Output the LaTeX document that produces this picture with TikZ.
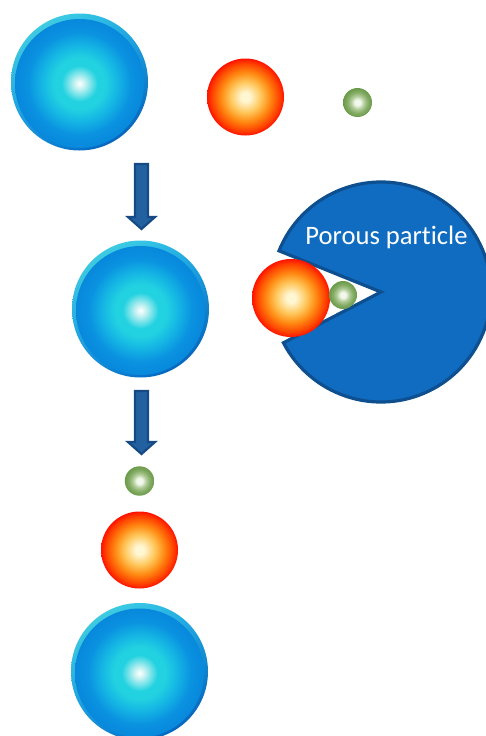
\documentclass[tikz,border=0pt]{standalone}
\usepackage{fontspec}
\usetikzlibrary{shadings}
\newfontfamily\carlito[Ligatures=NoCommon]{Carlito}
\definecolor{bwhite}{HTML}{FFFFFF}
\definecolor{bpale}{HTML}{C8F2F2}
\definecolor{bcyan}{HTML}{22D2E0}
\definecolor{bmid}{HTML}{14B4E4}
\definecolor{bblue}{HTML}{0A92E0}
\definecolor{bedge}{HTML}{0888DC}
\definecolor{rcore}{HTML}{FFF6D2}
\definecolor{ryel}{HTML}{FFC65A}
\definecolor{rorg}{HTML}{FF8A12}
\definecolor{rred}{HTML}{FF4200}
\definecolor{redge}{HTML}{FF1200}
\definecolor{gcore}{HTML}{F2F8EC}
\definecolor{glight}{HTML}{B4CE9C}
\definecolor{gmid}{HTML}{84AC66}
\definecolor{gedge}{HTML}{6A9A48}
\definecolor{pacfill}{HTML}{106CC0}
\definecolor{pacline}{HTML}{0D4F8F}
\definecolor{arrfill}{HTML}{22609F}
\definecolor{arrline}{HTML}{164A84}
\definecolor{rimA}{HTML}{4CDCE0}
\definecolor{rimB}{HTML}{20AEE8}
\definecolor{rimC}{HTML}{1090E0}
\definecolor{rimD}{HTML}{0052B0}
\pgfdeclareradialshading{bluesph}{\pgfpoint{0bp}{0bp}}{color(0bp)=(bwhite); color(2bp)=(bpale); color(7bp)=(bcyan); color(10bp)=(bcyan); color(15bp)=(bmid); color(20bp)=(bblue); color(25bp)=(bedge); color(50bp)=(bedge)}
\pgfdeclareradialshading{redsph}{\pgfpoint{0bp}{0bp}}{color(0bp)=(rcore); color(3bp)=(rcore); color(10bp)=(ryel); color(16bp)=(rorg); color(22bp)=(rred); color(25bp)=(redge); color(50bp)=(redge)}
\pgfdeclareradialshading{greensph}{\pgfpoint{0bp}{0bp}}{color(0bp)=(gcore); color(5bp)=(gcore); color(11bp)=(glight); color(18bp)=(gmid); color(25bp)=(gedge); color(50bp)=(gedge)}
\tikzset{
  bluerim/.style={upper left=rimA, upper right=rimB, lower left=rimC, lower right=rimD},
  blueball/.style={shading=bluesph},
  redball/.style={shading=redsph},
  greenball/.style={shading=greensph},
  pac/.style={fill=pacfill, draw=pacline, line width=3.2pt, line join=miter},
  blockarrow/.style={fill=arrfill, draw=arrline, line width=2.2pt, line join=miter},
  label/.style={text=white, font=\carlito\fontsize{26.6}{30}\selectfont, inner sep=0pt}
}
\newcommand{\bluesphere}[3]{%
  \shade[bluerim] (#1,#2) circle[radius=68.5];
  \shade[blueball] (#1,#2+1.5) circle[radius=64.5];
  \coordinate (#3) at (#1,#2);}
\begin{document}
\begin{tikzpicture}[x=1pt,y=-1pt]
\useasboundingbox (0,0) rectangle (486,736);
\clip (0,0) rectangle (486,736);
% row 1
\bluesphere{79.5}{82}{b1}
\shade[redball] (245.5,97) circle[radius=38.5];
\coordinate (r1) at (245.5,97);
\shade[greenball] (357.5,102.5) circle[radius=14.5];
\coordinate (g1) at (357.5,102.5);
% arrow 1
\filldraw[blockarrow] (135,164) -- (148,164) -- (148,217) -- (155,217) -- (141.5,229) -- (128,217) -- (135,217) -- cycle;
% row 2
\bluesphere{140.5}{309}{b2}
\draw[pac] (381,292) -- ++(202:110) arc[start angle=202, end angle=512.5, radius=110] -- cycle;
\coordinate (pc) at (381,292);
\node[label, anchor=base] (lbl) at (386.5,244) {Porous particle};
\shade[redball] (291,298) circle[radius=39];
\coordinate (r2) at (291,298);
\shade[greenball] (343,295) circle[radius=14];
\coordinate (g2) at (343,295);
% arrow 2
\filldraw[blockarrow] (135,391) -- (148,391) -- (148,442) -- (155,442) -- (141.5,454) -- (128,442) -- (135,442) -- cycle;
% row 3
\shade[greenball] (139.5,481) circle[radius=14.7];
\coordinate (g3) at (139.5,481);
\shade[redball] (139.5,550) circle[radius=38.5];
\coordinate (r3) at (139.5,550);
\bluesphere{139.5}{671.5}{b3}
\end{tikzpicture}
\end{document}
